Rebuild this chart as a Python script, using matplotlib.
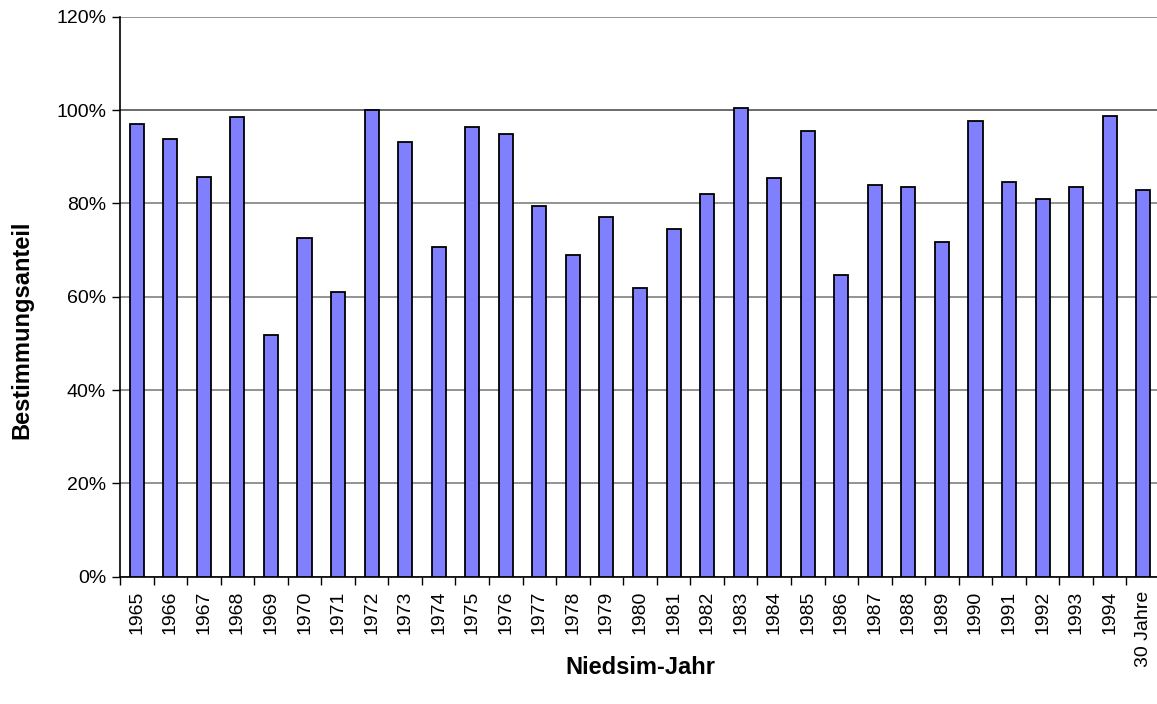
import matplotlib.pyplot as plt
import numpy as np
from matplotlib.ticker import PercentFormatter

plt.rcParams['font.family'] = ['Liberation Sans', 'DejaVu Sans']

# Jahre der Simulation plus Gesamtwert
jahre = ['1965', '1966', '1967', '1968', '1969', '1970', '1971', '1972',
         '1973', '1974', '1975', '1976', '1977', '1978', '1979', '1980',
         '1981', '1982', '1983', '1984', '1985', '1986', '1987', '1988',
         '1989', '1990', '1991', '1992', '1993', '1994', '30 Jahre']

# Bestimmungsanteil je Jahr (Anteil, 1.0 = 100%)
anteil = [0.970, 0.937, 0.856, 0.984, 0.519, 0.726, 0.611, 0.999,
          0.932, 0.707, 0.963, 0.949, 0.795, 0.689, 0.771, 0.619,
          0.744, 0.821, 1.004, 0.854, 0.956, 0.646, 0.839, 0.835,
          0.717, 0.976, 0.846, 0.809, 0.834, 0.988, 0.829]

y_ticks = [0, 0.2, 0.4, 0.6, 0.8, 1.0, 1.2]

fig = plt.figure(figsize=(11.57, 7.04), dpi=100)
ax = fig.add_axes([120 / 1157, 0.1808, 1040 / 1157, 0.7955])

x = np.arange(len(jahre))
ax.bar(x, anteil, width=0.42, color='#8080FF', edgecolor='black',
       linewidth=1.3, zorder=3)

ax.set_xlim(-0.5, len(jahre) - 0.5)
ax.set_ylim(0, 1.2)
ax.set_yticks(y_ticks)
ax.yaxis.set_major_formatter(PercentFormatter(1.0, decimals=0))

# Rasterlinien grau, 100%-Linie schwarz
ax.yaxis.grid(True, color='#808080', linewidth=1.2, zorder=0)
ax.axhline(1.0, color='black', linewidth=1.3, zorder=1)

# Striche zwischen den Kategorien
ax.set_xticks(np.arange(len(jahre) + 1) - 0.5, minor=False)
ax.set_xticklabels([])
ax.set_xticks(x, minor=True)
ax.set_xticklabels(jahre, minor=True, rotation=90, fontsize=14)
ax.tick_params(axis='x', which='minor', length=0, pad=10)
ax.tick_params(axis='x', which='major', length=6, width=1)
ax.tick_params(axis='y', length=6, width=1, labelsize=14, pad=4)

for side in ['top', 'right']:
    ax.spines[side].set_visible(False)
for side in ['left', 'bottom']:
    ax.spines[side].set_linewidth(1.2)

fig.text(22 / 1157, 1 - 330 / 704, 'Bestimmungsanteil', rotation=90,
         fontsize=17, fontweight='bold', ha='center', va='center')
fig.text(640 / 1157, 1 - 668 / 704, 'Niedsim-Jahr',
         fontsize=17, fontweight='bold', ha='center', va='center')

fig.savefig('out.png', dpi=100)
